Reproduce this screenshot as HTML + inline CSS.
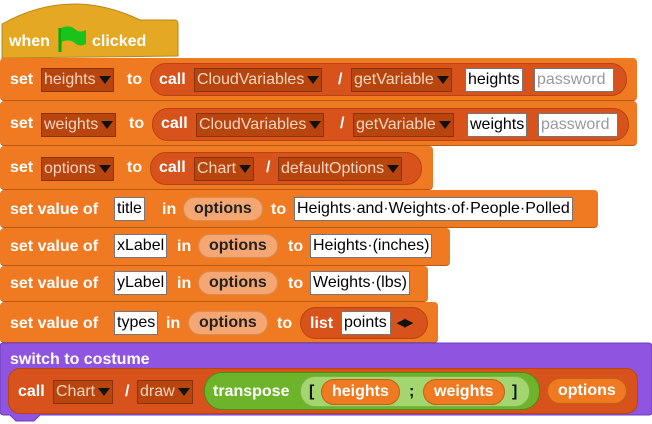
<!DOCTYPE html>
<html><head><meta charset="utf-8"><style>
body{margin:0;width:652px;height:424px;background:#fff;position:relative;overflow:hidden;font-family:"Liberation Sans",sans-serif;}
.a{position:absolute;box-sizing:border-box;}
.blk{background:#F07A22;border-radius:4px;border-bottom:1px solid #b85a15;}
.t{position:absolute;color:#fff;font-weight:bold;font-size:16px;white-space:nowrap;}
.rep{position:absolute;background:#D8521B;border-radius:16px;border:1px solid #b84412;box-sizing:border-box;}
.dd{position:absolute;background:#B8440E;border:1px solid #8a330a;color:#f6d6c0;font-size:16px;padding:0 2px;height:24px;line-height:22px;white-space:nowrap;box-sizing:border-box;}
.dd:after{content:"";display:inline-block;margin-left:3px;border-left:6px solid transparent;border-right:6px solid transparent;border-top:8px solid #111;vertical-align:middle;}
.in{position:absolute;background:#fff;border:1px solid #777;color:#000;font-size:16px;height:24px;line-height:22px;padding:0 2px;white-space:nowrap;box-sizing:border-box;}
.pill{position:absolute;background:#F4A772;border-radius:14px;color:#222;font-weight:bold;font-size:16px;height:24px;line-height:22px;padding:0 10px;box-sizing:border-box;border:1px solid #d98c55;}
.opill{position:absolute;background:#EF7A22;border-radius:14px;color:#fff;font-weight:bold;font-size:16px;height:26px;line-height:24px;padding:0 10px;box-sizing:border-box;border:1px solid #c45f15;}
</style></head><body>
<!-- hat -->
<svg class="a" style="left:0;top:0" width="180" height="62"><path d="M2,58 L2,24 Q70,-14 140,20 L174,20 Q178,20 178,24 L178,56 L2,58Z" fill="#E5A823" stroke="#b8861a"/><path d="M60,28 L60,52" stroke="#0a0" stroke-width="3"/><path d="M61,28 Q70,24 76,30 Q80,33 86,30 L86,44 Q80,47 76,44 Q70,38 61,42Z" fill="#19c319"/></svg>
<div class="t" style="left:9px;top:33px">when</div>
<div class="t" style="left:92px;top:33px">clicked</div>

<!-- row1 -->
<div class="a blk" style="left:0;top:58px;width:637px;height:43px"></div>
<div class="t" style="left:10px;top:71px">set</div>
<div class="dd" style="left:41px;top:68px">heights</div>
<div class="t" style="left:127px;top:71px">to</div>
<div class="rep" style="left:150px;top:63px;width:477px;height:33px"></div>
<div class="t" style="left:159px;top:71px">call</div>
<div class="dd" style="left:194px;top:68px">CloudVariables</div>
<div class="t" style="left:338px;top:71px">/</div>
<div class="dd" style="left:351px;top:68px">getVariable</div>
<div class="in" style="left:465px;top:68px">heights</div>
<div class="in" style="left:534px;top:68px;width:80px;color:#999">password</div>

<!-- row2 -->
<div class="a blk" style="left:0;top:101px;width:637px;height:45px"></div>
<div class="t" style="left:10px;top:115px">set</div>
<div class="dd" style="left:41px;top:113px">weights</div>
<div class="t" style="left:129px;top:115px">to</div>
<div class="rep" style="left:152px;top:108px;width:477px;height:33px"></div>
<div class="t" style="left:161px;top:115px">call</div>
<div class="dd" style="left:196px;top:113px">CloudVariables</div>
<div class="t" style="left:340px;top:115px">/</div>
<div class="dd" style="left:353px;top:113px">getVariable</div>
<div class="in" style="left:467px;top:113px">weights</div>
<div class="in" style="left:538px;top:113px;width:80px;color:#999">password</div>

<!-- row3 -->
<div class="a blk" style="left:0;top:146px;width:433px;height:44px"></div>
<div class="t" style="left:10px;top:159px">set</div>
<div class="dd" style="left:41px;top:157px">options</div>
<div class="t" style="left:127px;top:159px">to</div>
<div class="rep" style="left:150px;top:152px;width:272px;height:33px"></div>
<div class="t" style="left:159px;top:159px">call</div>
<div class="dd" style="left:194px;top:157px">Chart</div>
<div class="t" style="left:266px;top:159px">/</div>
<div class="dd" style="left:278px;top:157px">defaultOptions</div>

<!-- row4 -->
<div class="a blk" style="left:0;top:190px;width:598px;height:38px"></div>
<div class="t" style="left:10px;top:201px">set value of</div>
<div class="in" style="left:114px;top:197px">title</div>
<div class="t" style="left:162px;top:201px">in</div>
<div class="pill" style="left:183px;top:197px">options</div>
<div class="t" style="left:271px;top:201px">to</div>
<div class="in" style="left:294px;top:197px">Heights·and·Weights·of·People·Polled</div>

<!-- row5 -->
<div class="a blk" style="left:0;top:228px;width:450px;height:38px"></div>
<div class="t" style="left:10px;top:238px">set value of</div>
<div class="in" style="left:114px;top:234px">xLabel</div>
<div class="t" style="left:177px;top:238px">in</div>
<div class="pill" style="left:198px;top:234px">options</div>
<div class="t" style="left:288px;top:238px">to</div>
<div class="in" style="left:310px;top:234px">Heights·(inches)</div>

<!-- row6 -->
<div class="a blk" style="left:0;top:266px;width:428px;height:36px"></div>
<div class="t" style="left:10px;top:275px">set value of</div>
<div class="in" style="left:114px;top:271px">yLabel</div>
<div class="t" style="left:177px;top:275px">in</div>
<div class="pill" style="left:198px;top:271px">options</div>
<div class="t" style="left:288px;top:275px">to</div>
<div class="in" style="left:310px;top:271px">Weights·(lbs)</div>

<!-- row7 -->
<div class="a blk" style="left:0;top:302px;width:438px;height:41px"></div>
<div class="t" style="left:10px;top:315px">set value of</div>
<div class="in" style="left:114px;top:311px">types</div>
<div class="t" style="left:166px;top:315px">in</div>
<div class="pill" style="left:188px;top:311px">options</div>
<div class="t" style="left:277px;top:315px">to</div>
<div class="rep" style="left:300px;top:307px;width:128px;height:32px"></div>
<div class="t" style="left:310px;top:315px">list</div>
<div class="in" style="left:341px;top:311px;width:50px">points</div>
<div class="t" style="left:397px;top:316px;color:#111;font-size:11px;letter-spacing:-1px">◀▶</div>

<!-- purple switch to costume -->
<svg class="a" style="left:0;top:342px" width="652" height="82"><path d="M0,4 Q0,1 4,1 L648,1 Q652,1 652,5 L652,70 Q652,73 648,73 L40,73 L34,79 L16,79 L10,73 L4,73 Q0,73 0,69Z" fill="#8F55E0" stroke="#6e3dba"/></svg>
<div class="t" style="left:10px;top:351px">switch to costume</div>
<div class="rep" style="left:8px;top:368px;width:630px;height:46px;border-radius:12px"></div>
<div class="t" style="left:18px;top:383px">call</div>
<div class="dd" style="left:53px;top:380px">Chart</div>
<div class="t" style="left:125px;top:383px">/</div>
<div class="dd" style="left:137px;top:380px">draw</div>
<div class="a" style="left:204px;top:372px;width:336px;height:38px;background:#6DB42A;border-radius:18px;border:1px solid #4f8a1a"></div>
<div class="t" style="left:213px;top:383px">transpose</div>
<div class="a" style="left:300px;top:376px;width:230px;height:31px;background:#A4D66F;border-radius:15px;border:1px solid #7bb44a"></div>
<div class="t" style="left:309px;top:383px;color:#111">[</div>
<div class="opill" style="left:321px;top:379px">heights</div>
<div class="t" style="left:409px;top:383px;color:#111">;</div>
<div class="opill" style="left:423px;top:379px">weights</div>
<div class="t" style="left:512px;top:383px;color:#111">]</div>
<div class="opill" style="left:547px;top:378px">options</div>
</body></html>
